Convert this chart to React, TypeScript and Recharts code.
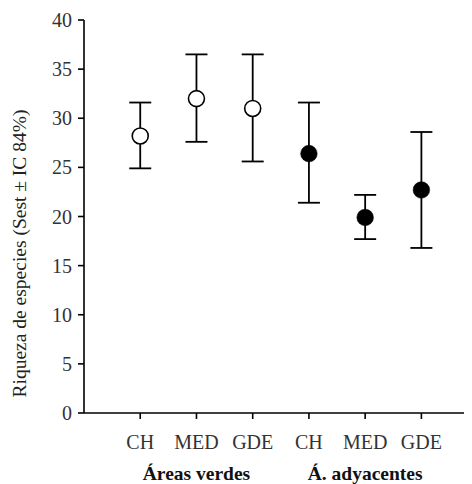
import React from 'react';
import {
  ScatterChart,
  Scatter,
  XAxis,
  YAxis,
  ErrorBar,
  Label,
} from 'recharts';

// categories along x, grouped in two habitats
const sizeLabels = ['CH', 'MED', 'GDE', 'CH', 'MED', 'GDE'];
const groupLabels = ['Áreas verdes', 'Á. adyacentes'];
const groupCenters = [2, 5]; // x positions where the group names sit
const yTicks = [0, 5, 10, 15, 20, 25, 30, 35, 40];

// estimated richness and 84% CI limits
const greenEst = [28.2, 32.0, 31.0];
const greenLow = [24.9, 27.6, 25.6];
const greenHigh = [31.6, 36.5, 36.5];

const adjEst = [26.4, 19.9, 22.7];
const adjLow = [21.4, 17.7, 16.8];
const adjHigh = [31.6, 22.2, 28.6];

const toPoints = (est: number[], low: number[], high: number[], offset: number) =>
  est.map((v, i) => ({
    x: i + 1 + offset,
    y: v,
    err: [v - low[i], high[i] - v],
  }));

const greenData = toPoints(greenEst, greenLow, greenHigh, 0);
const adjData = toPoints(adjEst, adjLow, adjHigh, 3);

const FONT = '"Liberation Serif", "DejaVu Serif", serif';

const OpenDot = (props: any) => (
  <circle cx={props.cx} cy={props.cy} r={8} fill="#fff" stroke="#000" strokeWidth={1.6} />
);
const FilledDot = (props: any) => (
  <circle cx={props.cx} cy={props.cy} r={8.3} fill="#000" stroke="#000" strokeWidth={0.5} />
);

// category label plus, under the middle category of each group, the group name
const XTick = (props: any) => {
  const { x, y, payload } = props;
  const v = payload.value as number;
  const g = groupCenters.indexOf(v);
  return (
    <g>
      <text x={x} y={y + 28} textAnchor="middle" fontFamily={FONT} fontSize={20} fill="#333">
        {sizeLabels[v - 1]}
      </text>
      {g >= 0 && (
        <text
          x={x}
          y={y + 59}
          textAnchor="middle"
          fontFamily={FONT}
          fontSize={19.5}
          fontWeight="bold"
          fill="#111"
        >
          {groupLabels[g]}
        </text>
      )}
    </g>
  );
};

const YTitle = (props: any) => {
  const vb = props.viewBox || {};
  const x = 11;
  const y = vb.y + vb.height / 2 + 37;
  return (
    <text
      x={x}
      y={y}
      transform={`rotate(-90, ${x}, ${y})`}
      textAnchor="middle"
      dominantBaseline="central"
      fontFamily={FONT}
      fontSize={19.5}
      fill="#222"
    >
      Riqueza de especies (Sest ± IC 84%)
    </text>
  );
};

export default function App() {
  return (
    <div style={{ width: 464, height: 476 }}>
      <ScatterChart
        width={464}
        height={476}
        margin={{ top: 12, right: 0, bottom: 0, left: 20 }}
      >
        <XAxis
          type="number"
          dataKey="x"
          domain={[0, 6.9]}
          ticks={[1, 2, 3, 4, 5, 6]}
          tick={<XTick />}
          stroke="#000"
          strokeWidth={1.6}
          tickSize={6}
          interval={0}
          height={71}
          allowDataOverflow
        />
        <YAxis
          type="number"
          dataKey="y"
          domain={[0, 40]}
          ticks={yTicks}
          stroke="#000"
          strokeWidth={1.6}
          tickSize={6}
          tickMargin={6}
          tick={{ fontFamily: FONT, fontSize: 20, fill: '#333' }}
          width={56}
          interval={0}
        >
          <Label content={<YTitle />} />
        </YAxis>
        <Scatter data={greenData} shape={<OpenDot />} isAnimationActive={false}>
          <ErrorBar
            dataKey="err"
            direction="y"
            width={11}
            stroke="#000"
            strokeWidth={1.8}
            isAnimationActive={false}
          />
        </Scatter>
        <Scatter data={adjData} shape={<FilledDot />} isAnimationActive={false}>
          <ErrorBar
            dataKey="err"
            direction="y"
            width={11}
            stroke="#000"
            strokeWidth={1.8}
            isAnimationActive={false}
          />
        </Scatter>
      </ScatterChart>
    </div>
  );
}
